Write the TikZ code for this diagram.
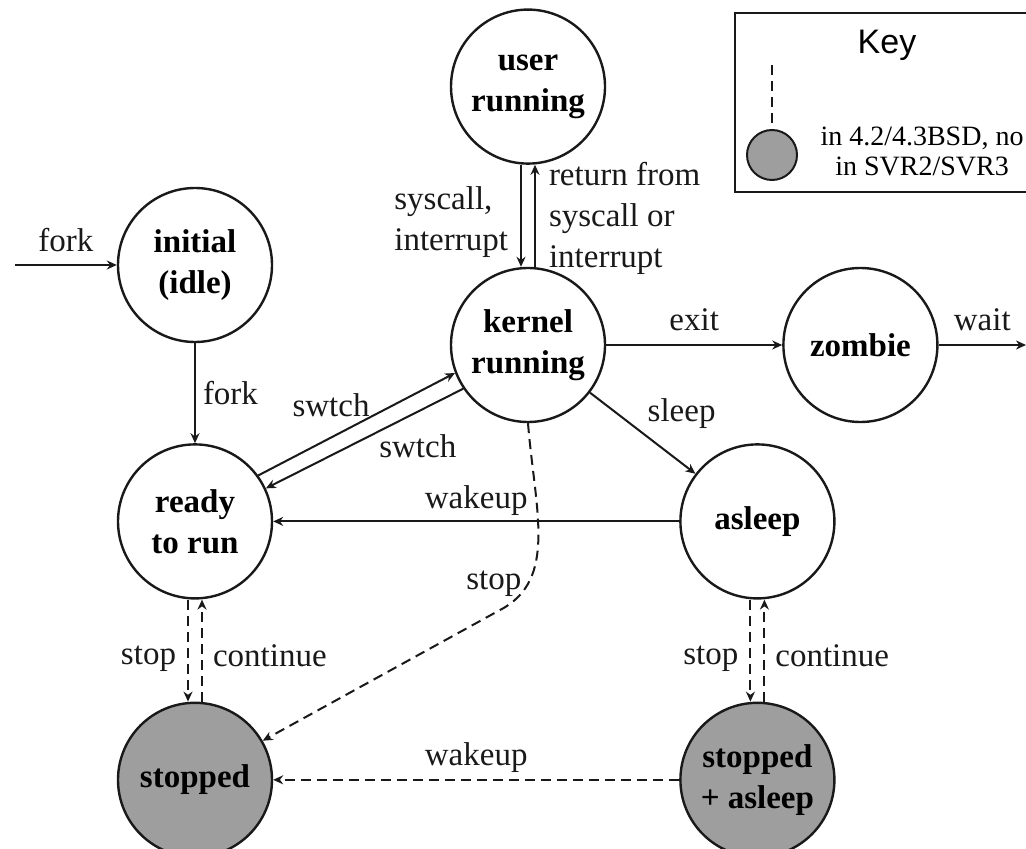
\documentclass[tikz,border=0pt]{standalone}
\usepackage{fontspec}
\setmainfont{Liberation Serif}
\setsansfont{Liberation Sans}
\usetikzlibrary{arrows.meta, positioning}
\definecolor{inkline}{RGB}{25, 25, 25}
\definecolor{stopgray}{RGB}{158, 158, 158}

\begin{document}
\begin{tikzpicture}[x=0.5pt, y=-0.5pt,
        state/.style={circle, draw=inkline, line width=1.2pt, minimum size=77pt, inner sep=0pt, align=center, font=\fontsize{16.5}{20.5}\selectfont\bfseries},
        stopstate/.style={state, fill=stopgray},
        arrow/.style={-{Stealth[length=5pt, width=4.5pt]}, line width=1pt, inkline},
        dasharrow/.style={arrow, dash pattern=on 5pt off 3pt},
        lbl/.style={font=\fontsize{16.5}{20.5}\selectfont, inner sep=2pt, align=left}
    ]
    \useasboundingbox (0,0) rectangle (1026,849);
    \clip (0,0) rectangle (1026,849);

    % states
    \node[state] (kernel) at (528,345) {kernel\\running};
    \node[state, above=51pt of kernel] (user) {user\\running};
    \node[state, right=88pt of kernel] (zombie) {zombie};
    \node[state] (initial) at (195,265) {initial\\(idle)};
    \node[state, below=50pt of initial] (ready) {ready\\to run};
    \node[stopstate, below=51pt of ready] (stopped) {stopped};
    \node[state, right=203pt of ready] (asleep) {asleep};
    \node[stopstate, below=51pt of asleep] (stasleep) {stopped\\+ asleep};

    % key
    \draw[line width=1.2pt, inkline] (735,13) rectangle (1045,192);
    \node[font=\fontsize{17}{20}\selectfont\sffamily] (keytitle) at (887,45) {Key};
    \node[circle, draw=inkline, line width=1pt, fill=stopgray, minimum size=25pt, inner sep=0pt] (keydot) at (772,155) {};
    \coordinate (keytop) at (772,65);
    \draw[line width=1pt, inkline, dash pattern=on 5pt off 3pt] (keytop) -- (keydot);
    \node[font=\fontsize{14}{15}\selectfont, align=center] (keytext) at (922,151) {in 4.2/4.3BSD, no\\in SVR2/SVR3};

    % transitions
    \coordinate (forkin) at (15,265);
    \coordinate (waitout) at (1026,345);
    \coordinate (stopbend) at (500,610);
    \draw[arrow] (forkin) -- node[lbl, above=4pt] {fork} (initial);
    \draw[arrow] (initial) -- node[lbl, right=1.5pt] {fork} (ready);
    \draw[arrow] ([xshift=-3.5pt]user.south) -- node[lbl, pos=0.56, left=4pt] {syscall,\\interrupt} ([xshift=-3.5pt]kernel.north);
    \draw[arrow] ([xshift=3.5pt]kernel.north) -- node[lbl, pos=0.47, right=4.5pt] {return from\\syscall or\\interrupt} ([xshift=3.5pt]user.south);
    \draw[arrow] (kernel) -- node[lbl, above=4.5pt] {exit} (zombie);
    \draw[arrow] (zombie) -- node[lbl, above=4.5pt] {wait} (waitout);
    \draw[arrow] (kernel) -- node[lbl, pos=0.5, anchor=south west] {sleep} (asleep);
    \draw[arrow] (ready.36) -- node[lbl, pos=0.37, above=8pt] {swtch} (kernel.201);
    \draw[arrow] (kernel.214) -- node[lbl, pos=0.23, below=9pt] {swtch} (ready.25);
    \draw[arrow] (asleep) -- node[lbl, above=0.5pt] {wakeup} (ready);
    \draw[dasharrow] (kernel.south) .. controls (535,510) and (558,580) .. node[lbl, pos=0.77, left=1pt] {stop} (stopbend) -- (stopped.30);
    \draw[dasharrow] ([xshift=-3.5pt]ready.south) -- node[lbl, pos=0.58, left=3.5pt] {stop} ([xshift=-3.5pt]stopped.north);
    \draw[dasharrow] ([xshift=3.5pt]stopped.north) -- node[lbl, pos=0.45, right=3pt] {continue} ([xshift=3.5pt]ready.south);
    \draw[dasharrow] ([xshift=-3.5pt]asleep.south) -- node[lbl, pos=0.58, left=3.5pt] {stop} ([xshift=-3.5pt]stasleep.north);
    \draw[dasharrow] ([xshift=3.5pt]stasleep.north) -- node[lbl, pos=0.45, right=3pt] {continue} ([xshift=3.5pt]asleep.south);
    \draw[dasharrow] (stasleep) -- node[lbl, above=1pt] {wakeup} (stopped);
\end{tikzpicture}
\end{document}
